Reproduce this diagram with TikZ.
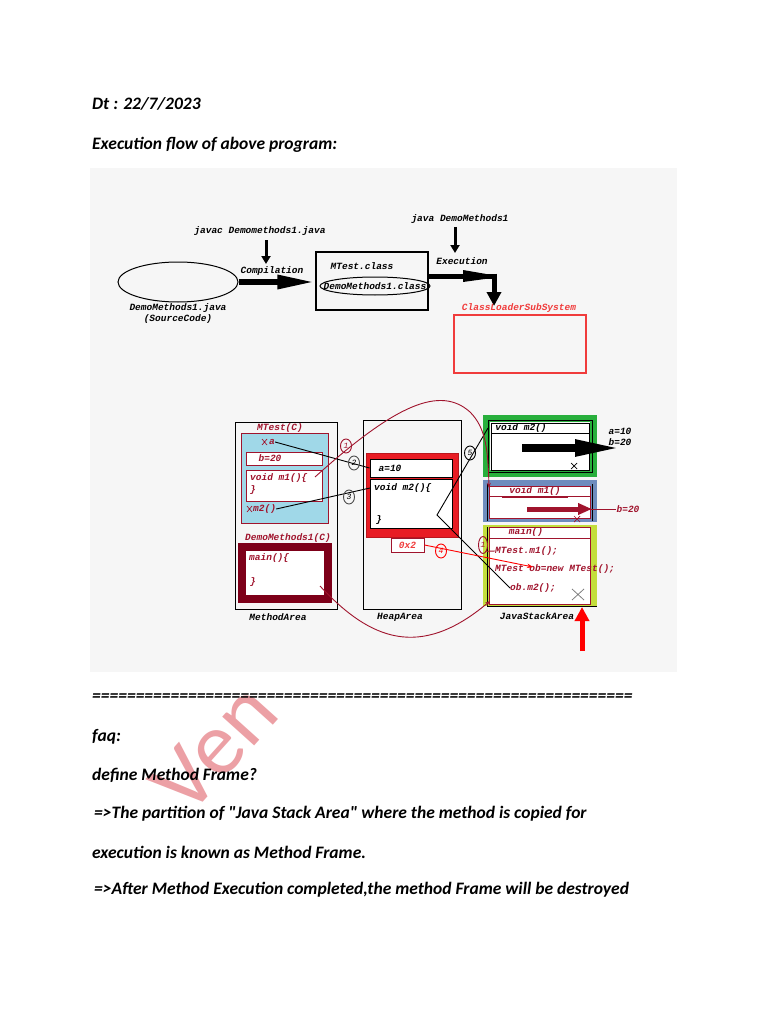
\documentclass[tikz,border=0pt]{standalone}
\usepackage{fontspec}
\setmainfont{Carlito}[Ligatures=TeXOff]
\newfontfamily\monofont{Liberation Mono}
\usetikzlibrary{arrows.meta,shapes.geometric}
\definecolor{dred}{RGB}{160,20,45}
\definecolor{maroonc}{RGB}{125,0,25}
\definecolor{bred}{RGB}{232,28,36}
\definecolor{lred}{RGB}{240,60,60}
\definecolor{lblue}{RGB}{160,216,232}
\definecolor{gframe}{RGB}{40,175,60}
\definecolor{bframe}{RGB}{110,140,190}
\definecolor{yframe}{RGB}{195,222,60}
\definecolor{bgc}{RGB}{246,246,246}
\definecolor{wm}{RGB}{236,160,165}
\begin{document}
\begin{tikzpicture}[x=1pt,y=-1pt,
  mono/.style={font=\monofont\bfseries\itshape\fontsize{9.5}{10}\selectfont, inner sep=0pt},
  monol/.style={mono, anchor=west},
  page/.style={font=\bfseries\itshape\fontsize{17.5}{20}\selectfont, anchor=west, inner sep=0pt},
  box/.style={draw, line width=1pt, inner sep=0pt},
  numc/.style={draw, ellipse, inner sep=0pt, minimum width=11pt, minimum height=14pt, line width=0.9pt, font=\monofont\itshape\fontsize{8}{8}\selectfont}
]
\useasboundingbox (0,0) rectangle (768,1024);
\fill[white] (0,0) rectangle (768,1024);

% watermark
\node[text=wm, rotate=48, font=\fontsize{90}{90}\selectfont, inner sep=0pt] (wmk) at (214,748) {Ven};

% diagram background
\fill[bgc] (90,168) rectangle (677,672);

% page text
\node[page] (dt) at (92,104) {Dt : 22/7/2023};
\node[page] (ef) at (92,145) {Execution flow of above program:};
\node[page] (eq) at (92,698) {==============================================================};
\node[page] (faq) at (92,737) {faq:};
\node[page] (def) at (92,775) {define Method Frame?};
\node[page] (p1) at (94,814) {=>The partition of "Java Stack Area" where the method is copied for};
\node[page] (p2) at (92,852) {execution is known as Method Frame.};
\node[page] (p3) at (94,890) {=>After Method Execution completed,the method Frame will be destroyed};

% ---------- top diagram ----------
\node[draw, ellipse, line width=1pt, minimum width=120pt, minimum height=40pt] (ell) at (178,282) {};
\node[mono] (dmj) at (178,308) {DemoMethods1.java};
\node[mono] (src) at (178,319) {(SourceCode)};
\node[mono] (javac) at (260,231) {javac Demomethods1.java};
\coordinate (j1) at (266,240);
\coordinate (j2) at (266,264);
\draw[line width=3pt, -{Triangle[length=8pt,width=9pt]}] (j1) -- (j2);
\node[mono] (comp) at (272,271) {Compilation};
\node[box, minimum width=112pt, minimum height=58pt, line width=1.2pt] (cls) at (372,281) {};
\node[mono] (mtc) at (362,266) {MTest.class};
\node[draw, ellipse, line width=1pt, minimum width=110pt, minimum height=18pt, inner sep=0pt] (dmc) at (375,286) {};
\node[mono] (dmct) at (375,286) {DemoMethods1.class};
\draw[line width=6pt, -{Triangle[length=38pt,width=13pt]}] (ell.east) -- (cls.west |- ell.east);
\node[mono] (jdm) at (460,219) {java DemoMethods1};
\coordinate (k1) at (455,227);
\coordinate (k2) at (455,253);
\draw[line width=3pt, -{Triangle[length=8pt,width=9pt]}] (k1) -- (k2);
\node[mono] (exe) at (462,261) {Execution};
\coordinate (ex1) at (428,276);
\coordinate (ex2) at (494,276);
\coordinate (ex3) at (494,306);
\draw[line width=5pt] (ex1) -- (ex2);
\fill (463,270) -- (492,275) -- (492,278) -- (463,282) -- cycle;
\draw[line width=5pt, -{Triangle[length=14pt,width=14pt]}] (494,273.5) -- (ex3);
\node[mono, text=lred] (cls2) at (519,308) {ClassLoaderSubSystem};
\node[draw=lred, line width=1.2pt, minimum width=132pt, minimum height=58pt, inner sep=0pt] (clb) at (520,344) {};

% ---------- Method area ----------
\node[box, minimum width=102pt, minimum height=187pt] (ma) at (286,515.5) {};
\node[mono] (mal) at (278,617) {MethodArea};
\node[mono, text=dred] (mtl) at (280,428) {MTest(C)};
\node[draw=dred, fill=lblue, line width=1pt, minimum width=87pt, minimum height=90pt, inner sep=0pt] (mtb) at (284.5,478) {};
\node[monol, text=dred] (av) at (269,442) {a};
\draw[dred, line width=0.7pt] (262,439) -- (267,445) (262,445) -- (267,439);
\node[draw=dred, fill=white, line width=1pt, minimum width=76pt, minimum height=13pt, inner sep=0pt] (bb) at (284,458.5) {};
\node[mono, text=dred] (bt) at (270,458.5) {b=20};
\node[draw=dred, fill=white, line width=1pt, minimum width=76pt, minimum height=31pt, inner sep=0pt] (m1b) at (284,485.5) {};
\node[monol, text=dred] (m1t) at (250,478.5) {void m1()\{};
\node[monol, text=dred] (m1c) at (250,490.5) {\}};
\draw[dred, line width=0.7pt] (247,506) -- (252,512) (247,512) -- (252,506);
\node[monol, text=dred] (m2t) at (253,509) {m2()};
\node[mono, text=dred] (dml) at (288,538) {DemoMethods1(C)};
\node[draw=maroonc, fill=white, line width=8pt, minimum width=86pt, minimum height=52pt, inner sep=0pt] (mnb) at (285,573) {};
\node[monol, text=dred] (mnt) at (249,558) {main()\{};
\node[monol, text=dred] (mnc) at (250,582) {\}};
\coordinate (m1in) at (315,477);
\coordinate (mnin) at (320,586);

% ---------- Heap area ----------
\node[box, minimum width=98pt, minimum height=189pt] (ha) at (412,514.5) {};
\node[mono] (hal) at (400,617) {HeapArea};
\node[fill=bred, draw=bred!80!black, line width=0.6pt, minimum width=92pt, minimum height=84pt, inner sep=0pt] (obj) at (412,495) {};
\node[box, fill=white, minimum width=82pt, minimum height=18pt] (a10) at (411,468) {};
\node[mono] (a10t) at (390,468) {a=10};
\node[box, fill=white, minimum width=82pt, minimum height=49pt] (hm2) at (411,503.5) {};
\node[monol] (hm2t) at (374,488) {void m2()\{};
\node[monol] (hm2c) at (376,520) {\}};
\node[draw=dred, line width=1pt, fill=white, minimum width=33pt, minimum height=14pt, inner sep=0pt] (ox) at (407.5,545) {};
\node[mono, text=lred] (oxt) at (407.5,545) {0x2};
\coordinate (hm2in) at (370,488);
\coordinate (hx) at (437,515);

% ---------- Java stack area ----------
% m2 frame
\draw[gframe, line width=7pt] (486.5,418.5) rectangle (593.5,473.5);
\draw[line width=0.8pt] (488,420) rectangle (592,472);
\node[box, fill=white, minimum width=98pt, minimum height=47pt] (f2) at (540,446.5) {};
\draw[line width=0.8pt] (491,433) -- (589,433);
\node[mono] (f2t) at (521,428) {void m2()};
\draw[line width=8pt, -{Triangle[length=48pt,width=15pt]}] (522,448) -- (623,448);
\node[mono] (fa) at (620,431) {a=10};
\node[mono] (fb) at (620,442) {b=20};
\draw[line width=0.7pt] (571,463) -- (577,469) (571,469) -- (577,463);
% m1 frame
\draw[bframe, line width=7pt] (486.5,483.5) rectangle (593.5,518.5);
\draw[line width=0.8pt] (487.5,484) -- (487.5,521) (592.5,484) -- (592.5,521);
\node[draw=dred, fill=white, line width=0.9pt, minimum width=101pt, minimum height=32pt, inner sep=0pt] (f1) at (539.5,502.5) {};
\draw[dred, line width=0.8pt] (489,496) -- (590,496);
\node[mono, text=dred] (f1t) at (535,491) {void m1()};
\draw[dred, line width=0.8pt] (502,497) -- (568,497);
\node[mono, text=dred] (fb2) at (628,509) {b=20};
\coordinate (r1) at (527,509);
\draw[dred, line width=0.8pt] (r1) -- (fb2.west);
\draw[dred, line width=5pt, -{Triangle[length=14pt,width=11pt]}] (r1) -- (592,509);
\draw[dred, line width=0.7pt] (574,516) -- (580,522) (574,522) -- (580,516);
% main frame
\draw[yframe, line width=7pt] (486.5,528.5) rectangle (593.5,602.5);
\draw[line width=0.8pt] (487.5,527) -- (487.5,606) -- (597,606);
\node[draw=dred, fill=white, line width=0.9pt, minimum width=101pt, minimum height=77pt, inner sep=0pt] (f0) at (539.5,565.5) {};
\draw[dred, line width=0.8pt] (489,538) -- (590,538);
\node[mono, text=dred] (f0t) at (526,532) {main()};
\node[monol, text=dred] (mtm1) at (495,551) {MTest.m1();};
\node[monol, text=dred] (mtob) at (495,569) {MTest ob=new MTest();};
\node[monol, text=dred] (obm2) at (510,588) {ob.m2();};
\draw[gray, line width=0.8pt] (572,589) -- (584,600) (572,600) -- (584,589);
\node[mono] (jsl) at (537,616) {JavaStackArea};
\coordinate (up1) at (582,651);
\coordinate (up2) at (582,607);
\draw[red, line width=5pt, -{Triangle[length=14pt,width=14pt]}] (up1) -- (up2);
\coordinate (obpt) at (533,567);
\coordinate (f2in) at (488,428);
\coordinate (f1in) at (489,488);
\coordinate (f0in) at (490,601);

% ---------- connectors ----------
\draw[line width=0.9pt] (av.east) -- (a10.west);
\node[numc, draw=black!70] (c2) at (354,463) {2};
\draw[line width=0.9pt] (m2t.east) -- (hm2in);
\node[numc, draw=black!70] (c3) at (349,497) {3};
\draw[line width=0.9pt] (obm2.west) -- (hx) -- (f2in);
\node[numc] (c5) at (470,453) {5};
\draw[red, line width=0.9pt, -{Stealth[length=6pt]}] (ox.east) -- (obpt);
\node[numc, draw=red, text=red] (c4) at (441,551) {4};
\draw[dred, line width=0.9pt, -{Stealth[length=5pt]}] (m1in) .. controls (395,405) and (440,385) .. (470,412) .. controls (486,428) and (488,450) .. (f1in);
\node[numc, draw=dred, text=dred] (c1) at (346,446) {1};
\draw[dred, line width=0.9pt, -{Stealth[length=5pt]}] (mnin) .. controls (370,640) and (420,660) .. (f0in);
\node[numc, draw=dred, text=dred, minimum width=9pt, minimum height=17pt] (c1b) at (483,545) {1};
\draw[dred, line width=0.9pt] (c1b.south east) -- (mtm1.west);
\end{tikzpicture}
\end{document}
